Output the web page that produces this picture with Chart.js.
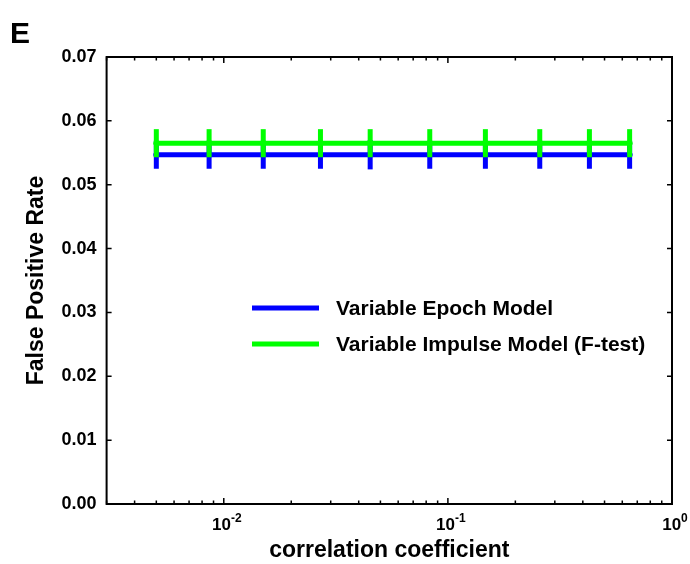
<!DOCTYPE html>
<html>
<head>
<meta charset="utf-8">
<script src="https://cdn.jsdelivr.net/npm/chart.js@4.4.0/dist/chart.umd.min.js"></script>
<style>
  html, body { margin: 0; padding: 0; background: #fff; }
  #wrap { position: relative; width: 690px; height: 564px; }
  #panel { position: absolute; left: 10px; top: 18px; font: bold 30px 'Liberation Sans', Arial, sans-serif; line-height: 30px; color: #000; }
</style>
</head>
<body>
<div id="wrap">
  <canvas id="chart" width="690" height="564"></canvas>
  <div id="panel">E</div>
</div>
<script>
// values
const corrCoef = [0.005, 0.0086, 0.015, 0.027, 0.045, 0.083, 0.147, 0.257, 0.428, 0.647];
const epochRate = [0.0547, 0.0547, 0.0547, 0.0547, 0.0547, 0.0547, 0.0547, 0.0547, 0.0547, 0.0547];
const epochErr = [0.0022, 0.0022, 0.0022, 0.0022, 0.0023, 0.0022, 0.0022, 0.0022, 0.0022, 0.0022];
const impulseRate = [0.0565, 0.0565, 0.0565, 0.0565, 0.0565, 0.0565, 0.0565, 0.0565, 0.0565, 0.0565];
const impulseErr = [0.0022, 0.0022, 0.0022, 0.0022, 0.0022, 0.0022, 0.0022, 0.0022, 0.0022, 0.0022];
const yTicks = [0, 0.01, 0.02, 0.03, 0.04, 0.05, 0.06, 0.07];
const xMajorTicks = [0.01, 0.1, 1];
const xMajorExp = ['-2', '-1', '0'];
const seriesNames = ['Variable Epoch Model', 'Variable Impulse Model (F-test)'];

const FONT = "'Liberation Sans', Arial, sans-serif";
const BLUE = 'rgb(0, 0, 255)';
const GREEN = 'rgb(0, 255, 0)';

function points(rates) {
    return corrCoef.map((c, i) => ({ x: c, y: rates[i] }));
}

// vertical error bars, drawn right after their own line
const errorBars = {
    id: 'errorBars',
    afterDatasetDraw(chart, args) {
        const ds = chart.data.datasets[args.index];
        if (!ds.errors) return;
        const { ctx, scales: { x, y } } = chart;
        ctx.save();
        ctx.strokeStyle = ds.borderColor;
        ctx.lineWidth = 5;
        ds.data.forEach((p, i) => {
            const px = x.getPixelForValue(p.x);
            ctx.beginPath();
            ctx.moveTo(px, y.getPixelForValue(p.y - ds.errors[i]));
            ctx.lineTo(px, y.getPixelForValue(p.y + ds.errors[i]));
            ctx.stroke();
        });
        ctx.restore();
    }
};

// box, inward ticks, 10^n labels and the legend
const frame = {
    id: 'frame',
    afterDraw(chart) {
        const { ctx, chartArea: a, scales: { x, y } } = chart;
        ctx.save();
        ctx.strokeStyle = '#000';
        ctx.lineWidth = 2;
        ctx.strokeRect(a.left, a.top, a.right - a.left, a.bottom - a.top);

        ctx.lineWidth = 1.5;
        ctx.beginPath();
        yTicks.forEach(v => {
            const py = y.getPixelForValue(v);
            ctx.moveTo(a.left, py); ctx.lineTo(a.left + 5, py);
            ctx.moveTo(a.right, py); ctx.lineTo(a.right - 5, py);
        });
        for (let d = -3; d <= 0; d++) {
            for (let k = 1; k <= 9; k++) {
                const v = k * Math.pow(10, d);
                if (v < x.min - 1e-9 || v > x.max + 1e-9) continue;
                const px = x.getPixelForValue(v);
                const len = k === 1 ? 6 : 3.5;
                ctx.moveTo(px, a.bottom); ctx.lineTo(px, a.bottom - len);
                ctx.moveTo(px, a.top); ctx.lineTo(px, a.top + len);
            }
        }
        ctx.stroke();

        ctx.fillStyle = '#000';
        ctx.textBaseline = 'alphabetic';
        xMajorTicks.forEach((v, i) => {
            const px = x.getPixelForValue(v);
            ctx.font = 'bold 17px ' + FONT;
            const wBase = ctx.measureText('10').width;
            ctx.font = 'bold 12px ' + FONT;
            const wExp = ctx.measureText(xMajorExp[i]).width;
            const start = px - (wBase + wExp) / 2 + 3;
            ctx.font = 'bold 17px ' + FONT;
            ctx.textAlign = 'left';
            ctx.fillText('10', start, 530);
            ctx.font = 'bold 12px ' + FONT;
            ctx.fillText(xMajorExp[i], start + wBase, 522);
        });

        // legend
        const rows = [308, 344];
        chart.data.datasets.forEach((ds, i) => {
            const row = rows[seriesNames.indexOf(ds.label)];
            ctx.strokeStyle = ds.borderColor;
            ctx.lineWidth = 5;
            ctx.beginPath();
            ctx.moveTo(252, row); ctx.lineTo(319, row);
            ctx.stroke();
            ctx.fillStyle = '#000';
            ctx.font = 'bold 21px ' + FONT;
            ctx.textBaseline = 'middle';
            ctx.fillText(ds.label, 336, row + 1);
        });
        ctx.restore();
    }
};

new Chart(document.getElementById('chart').getContext('2d'), {
    type: 'line',
    data: {
        datasets: [
            {
                label: seriesNames[0],
                data: points(epochRate),
                errors: epochErr,
                borderColor: BLUE,
                backgroundColor: BLUE,
                borderWidth: 5,
                pointRadius: 3,
                pointBorderWidth: 0,
                order: 2
            },
            {
                label: seriesNames[1],
                data: points(impulseRate),
                errors: impulseErr,
                borderColor: GREEN,
                backgroundColor: GREEN,
                borderWidth: 5,
                pointRadius: 3,
                pointBorderWidth: 0,
                order: 1
            }
        ]
    },
    options: {
        responsive: false,
        animation: false,
        layout: { padding: { left: 0, top: 57, right: 18, bottom: 0 } },
        plugins: { legend: { display: false }, tooltip: { enabled: false } },
        scales: {
            x: {
                type: 'logarithmic',
                min: 0.003,
                max: 1,
                grid: { display: false, drawTicks: false },
                border: { display: false },
                ticks: { display: false },
                title: {
                    display: true,
                    text: 'correlation coefficient',
                    color: '#000',
                    font: { family: FONT, size: 23, weight: 'bold' },
                    padding: { top: 0, bottom: 0 }
                },
                afterFit(scale) { scale.height = 60; }
            },
            y: {
                min: 0,
                max: 0.07,
                grid: { display: false, drawTicks: false },
                border: { display: false },
                afterBuildTicks(scale) { scale.ticks = yTicks.map(v => ({ value: v })); },
                ticks: {
                    color: '#000',
                    padding: 10,
                    font: { family: FONT, size: 18, weight: 'bold' },
                    callback: v => v.toFixed(2)
                },
                title: {
                    display: true,
                    text: 'False Positive Rate',
                    color: '#000',
                    font: { family: FONT, size: 23, weight: 'bold' },
                    padding: { top: 23, bottom: 0 }
                },
                afterFit(scale) { scale.width = 106.6; }
            }
        }
    },
    plugins: [errorBars, frame]
});
</script>
</body>
</html>
